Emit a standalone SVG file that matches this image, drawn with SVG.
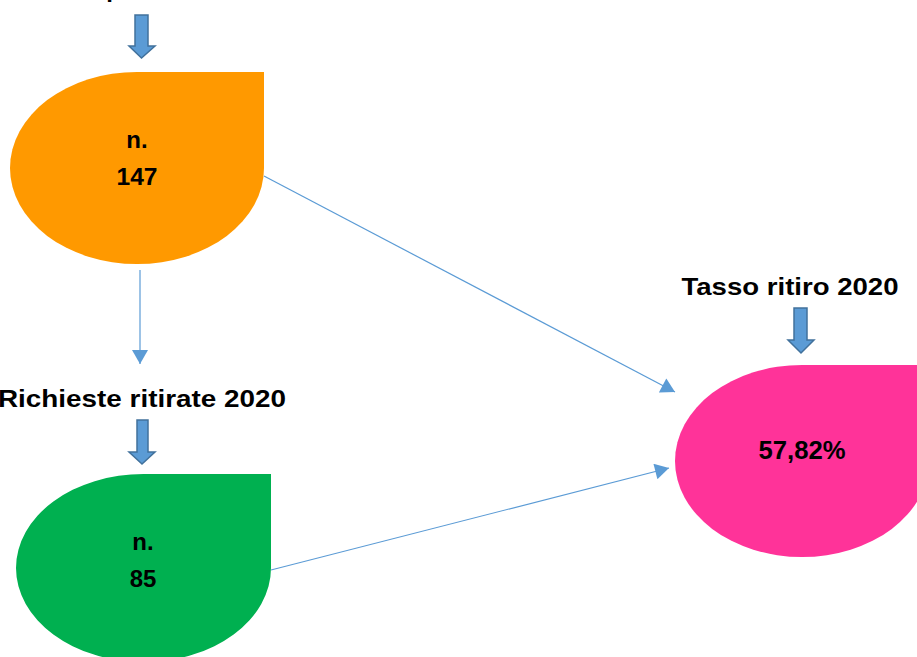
<svg xmlns="http://www.w3.org/2000/svg" width="917" height="657" viewBox="0 0 917 657">
<style>
.lbl{font-family:"Liberation Sans",Arial,sans-serif;font-weight:bold;fill:#000;}
.big{font-size:24px;}
.in{font-size:24px;text-anchor:middle;}
.blk{fill:#5B9BD5;stroke:#41719C;stroke-width:1.5;}
.con{stroke:#5B9BD5;stroke-width:1.2;fill:none;marker-end:url(#ah);}
</style>
<defs>
<marker id="ah" markerUnits="userSpaceOnUse" markerWidth="16" markerHeight="16" viewBox="0 0 14 16" refX="14" refY="8" orient="auto">
<path d="M0,0 L14,8 L0,16 Z" fill="#5B9BD5"/>
</marker>
</defs>
<rect width="917" height="657" fill="#fff"/>
<g id="connectors">
<line class="con" x1="140" y1="270" x2="140" y2="364"/>
<line class="con" x1="264" y1="176" x2="675" y2="392"/>
<line class="con" x1="271" y1="570" x2="669" y2="468"/>
</g>
<g id="label-top">
<text class="lbl big" x="137" y="-3" text-anchor="middle">Richieste pervenute 2020</text>
<path class="blk" d="M135,15 H148 V46 H155 L141.5,58 L129,46 H135 Z"/>
</g>
<g id="node-147">
<path d="M137,72 H264 V168 A127,96 0 0 1 137,264 A127,96 0 0 1 10,168 A127,96 0 0 1 137,72 Z" fill="#FF9900"/>
<text class="lbl in" x="137" y="148">n.</text>
<text class="lbl in" x="137" y="185" textLength="41" lengthAdjust="spacingAndGlyphs">147</text>
</g>
<g id="label-ritirate">
<text class="lbl big" x="142" y="407" text-anchor="middle" textLength="288" lengthAdjust="spacingAndGlyphs">Richieste ritirate 2020</text>
<path class="blk" d="M137,420 H148 V452 H155 L142,464 L129,452 H137 Z"/>
</g>
<g id="node-85">
<path d="M143.5,474 H271 V568 A127.5,94 0 0 1 143.5,662 A127.5,94 0 0 1 16,568 A127.5,94 0 0 1 143.5,474 Z" fill="#00B050"/>
<text class="lbl in" x="143" y="550">n.</text>
<text class="lbl in" x="143" y="587">85</text>
</g>
<g id="label-tasso">
<text class="lbl big" x="790" y="295" text-anchor="middle" textLength="217" lengthAdjust="spacingAndGlyphs">Tasso ritiro 2020</text>
<path class="blk" d="M794,308 H807 V340 H814 L801,353 L788,340 H794 Z"/>
</g>
<g id="node-tasso">
<path d="M802,365 H929 V461 A127,96 0 0 1 802,557 A127,96 0 0 1 675,461 A127,96 0 0 1 802,365 Z" fill="#FF3399"/>
<text class="lbl" x="802" y="459" text-anchor="middle" font-size="25" textLength="87" lengthAdjust="spacingAndGlyphs">57,82%</text>
</g>
</svg>
